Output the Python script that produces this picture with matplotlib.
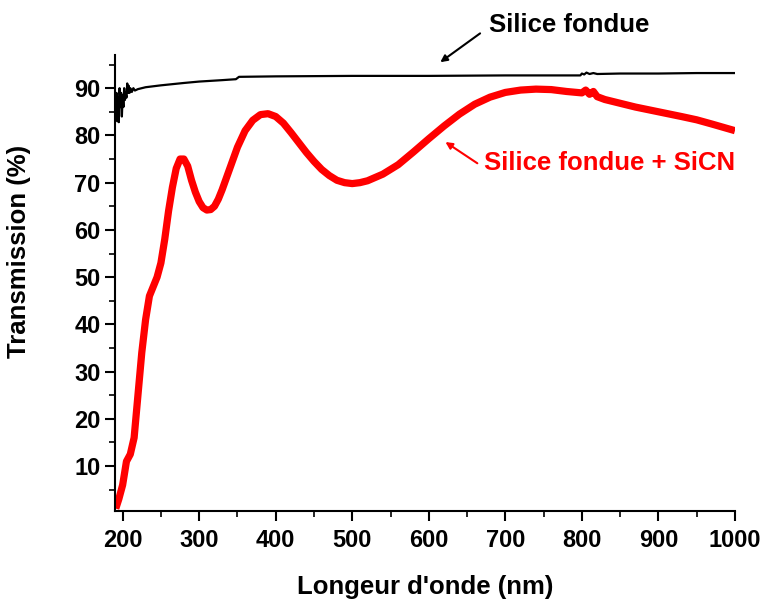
import matplotlib
matplotlib.use('Agg')
from matplotlib import pyplot as plt
from matplotlib.ticker import MultipleLocator
import numpy as np

# Fused silica (black)
silice_x = [190, 191, 192, 193, 194, 195, 196, 197, 198, 199, 200, 201, 202, 203, 204,
            205, 206, 207, 208, 209, 210, 212, 214, 216, 220, 230, 250, 280, 300, 330,
            348, 352, 400, 500, 600, 700, 798, 800, 803, 806, 810, 815, 820, 850, 900,
            950, 1000]
silice_y = [86, 84, 89, 83, 88, 82.8, 90, 86, 89, 84, 88.5, 86, 90, 87.5, 89,
            88, 91, 89, 90.5, 89, 90, 89.2, 90, 89.5, 89.8, 90.2, 90.6, 91.1, 91.4, 91.7,
            91.9, 92.4, 92.5, 92.6, 92.6, 92.7, 92.7, 93.1, 92.9, 93.3, 93.0, 93.2, 93.0, 93.1, 93.1,
            93.2, 93.2]

# Fused silica + SiCN (red)
sicn_x = [191, 195, 200, 205, 210, 215, 220, 225, 230, 235, 240, 245, 250, 255, 260,
          265, 270, 275, 280, 285, 290, 295, 300, 305, 310, 315, 320, 325, 330, 340,
          350, 360, 370, 380, 390, 400, 410, 420, 430, 440, 450, 460, 470, 480, 490,
          500, 510, 520, 540, 560, 580, 600, 620, 640, 660, 680, 700, 720, 740, 760,
          780, 800, 805, 810, 815, 820, 830, 850, 870, 900, 930, 950, 970, 1000]
sicn_y = [1, 3, 6, 11, 12.5, 16, 25, 34, 41, 46, 48, 50, 53, 58, 64,
          69, 73, 75, 75, 73.5, 70.5, 68, 66, 64.7, 64.2, 64.3, 65, 66.5, 68.5, 73,
          77.5, 81, 83.2, 84.4, 84.6, 84, 82.6, 80.6, 78.5, 76.4, 74.5, 72.8, 71.5, 70.5, 70,
          69.8, 70, 70.4, 71.8, 73.8, 76.5, 79.3, 82, 84.5, 86.6, 88.1, 89.1, 89.6, 89.8, 89.7,
          89.3, 89.0, 89.6, 88.7, 89.3, 88.2, 87.6, 86.8, 86.0, 85.0, 84.0, 83.3, 82.4, 81.0]

xticks = [200, 300, 400, 500, 600, 700, 800, 900, 1000]
yticks = [10, 20, 30, 40, 50, 60, 70, 80, 90]

plt.rcParams['font.family'] = ['Liberation Sans', 'DejaVu Sans']
plt.rcParams['font.weight'] = 'bold'

fig = plt.figure(figsize=(7.64, 5.99), dpi=100)
ax = fig.add_axes([0.1505, 0.147, 0.8115, 0.761])

ax.plot(silice_x, silice_y, color='black', lw=1.6)
ax.plot(sicn_x, sicn_y, color='#ff0000', lw=5.2, solid_capstyle='butt')

ax.set_xlim(190, 1000)
ax.set_ylim(0.5, 97)

ax.spines['right'].set_visible(False)
ax.spines['top'].set_visible(False)
for s in ('left', 'bottom'):
    ax.spines[s].set_linewidth(1.5)

ax.set_xticks(xticks)
ax.set_yticks(yticks)
ax.xaxis.set_minor_locator(MultipleLocator(50))
ax.yaxis.set_minor_locator(MultipleLocator(5))
ax.tick_params(which='major', direction='out', length=7, width=1.5, labelsize=17)
ax.tick_params(axis='x', which='major', pad=6)
ax.tick_params(which='minor', direction='out', length=4, width=1.2)

ax.set_xlabel("Longeur d'onde (nm)", fontsize=18.5, fontweight='bold')
ax.set_ylabel("Transmission (%)", fontsize=18.5, fontweight='bold')
ax.xaxis.set_label_coords(0.5, -0.14)
ax.yaxis.set_label_coords(-0.135, 0.57)

# black label + arrow
ax.text(678, 103.3, 'Silice fondue', fontsize=18.5, fontweight='bold',
        color='black', ha='left', va='center', clip_on=False)
ax.annotate('', xy=(615, 95.5), xytext=(667, 101.6), annotation_clip=False,
            arrowprops=dict(arrowstyle='-|>', color='black', lw=1.5,
                            shrinkA=0, shrinkB=0, mutation_scale=10))

# red label + arrow
ax.text(672.6, 74.1, 'Silice fondue + SiCN', fontsize=18.5, fontweight='bold',
        color='#ff0000', ha='left', va='center')
ax.annotate('', xy=(621.7, 78.6), xytext=(663.4, 74.1),
            arrowprops=dict(arrowstyle='-|>', color='#ff0000', lw=1.5,
                            shrinkA=0, shrinkB=0, mutation_scale=10))

fig.savefig('out.png', dpi=100)
